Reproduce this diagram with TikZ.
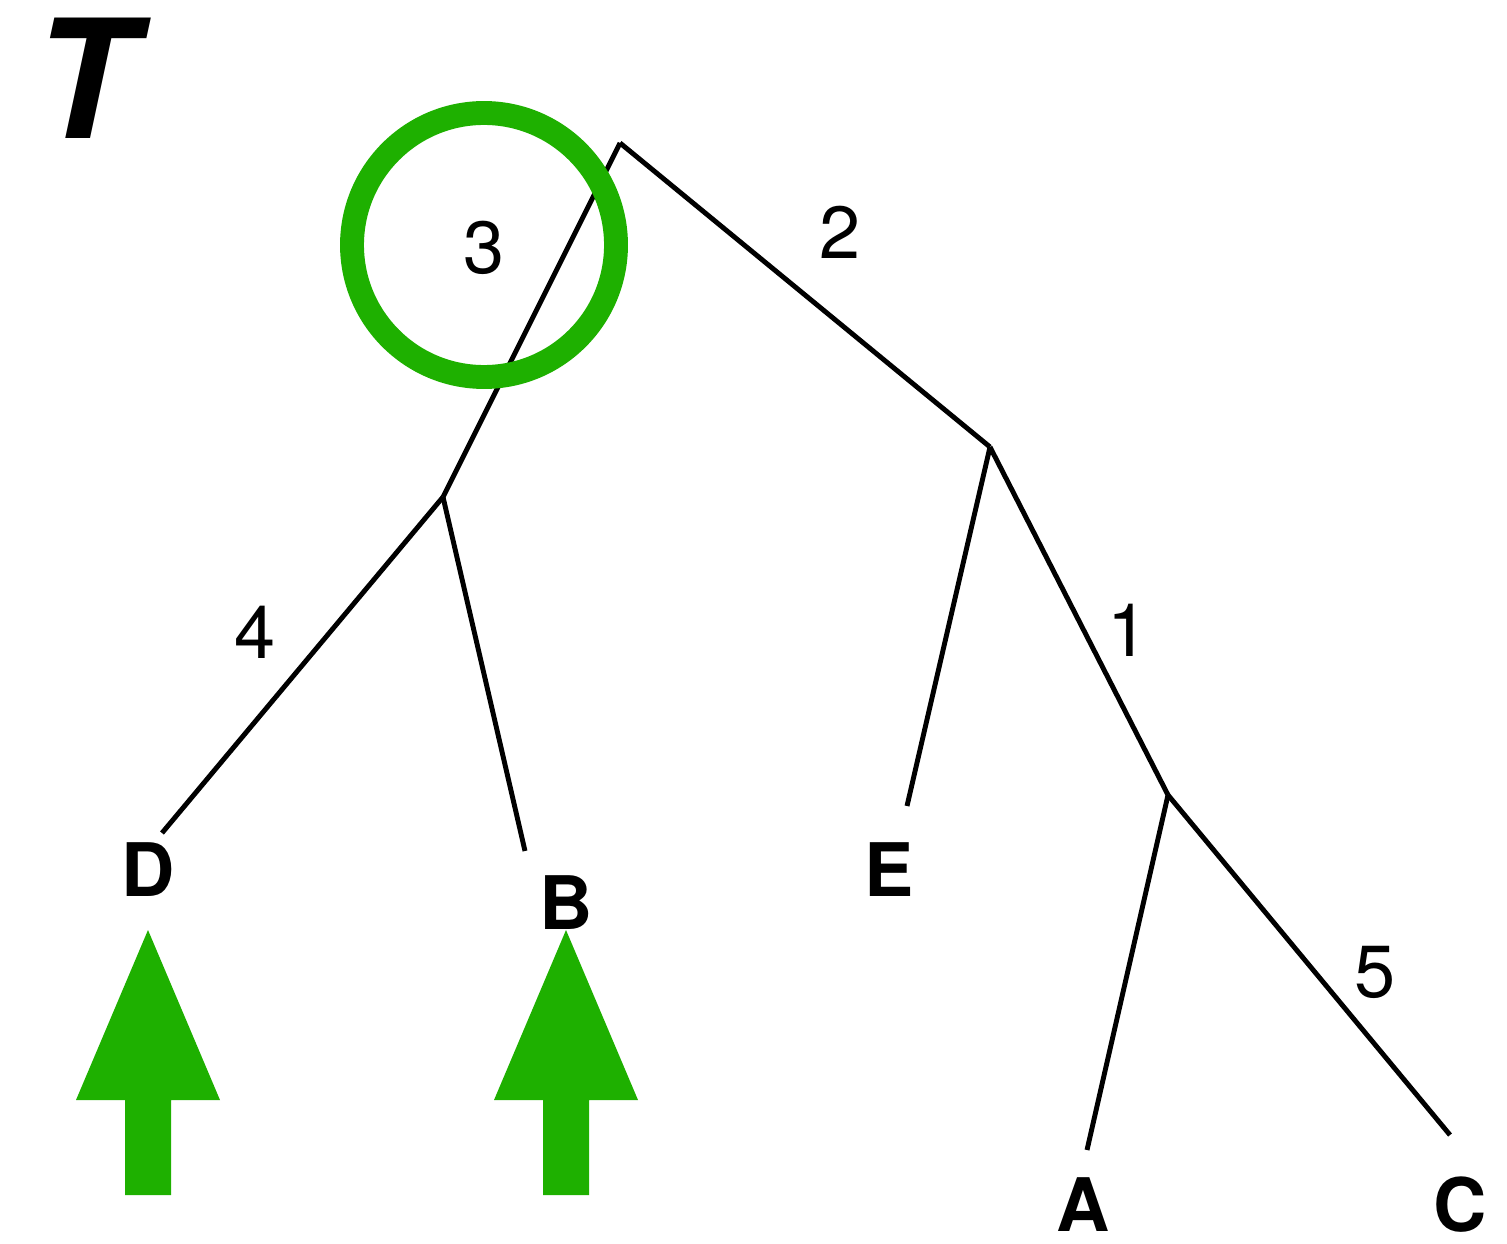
\documentclass[tikz,border=0pt]{standalone}
\usepackage{fontspec}
\setmainfont{TeX Gyre Heros}
\usetikzlibrary{positioning}
\definecolor{markgreen}{RGB}{30,176,0}

\begin{document}
\begin{tikzpicture}[x=0.01cm, y=-0.01cm,
	branch/.style = { draw=black, line width=1.4pt },
	leaf/.style = { font=\fontsize{21}{24}\selectfont\bfseries, inner sep=0pt },
	weight/.style = { font=\fontsize{21}{24}\selectfont, inner sep=0pt } ]

  \useasboundingbox (0,0) rectangle (1507,1243);

  % tree
  \coordinate (root) at (620,143);
  \coordinate (left) at (443,497);
  \coordinate (right) at (990,447);
  \coordinate (inner) at (1168,795);
  \coordinate (tipD) at (162,833);
  \coordinate (tipB) at (525,851);
  \coordinate (tipE) at (907,806);
  \coordinate (tipA) at (1087,1150);
  \coordinate (tipC) at (1450,1135);

  \draw [branch] (root) -- (left);
  \draw [branch] (root) -- (right);
  \draw [branch] (left) -- (tipD);
  \draw [branch] (left) -- (tipB);
  \draw [branch] (right) -- (tipE);
  \draw [branch] (right) -- (inner);
  \draw [branch] (inner) -- (tipA);
  \draw [branch] (inner) -- (tipC);

  \node [name=title, inner sep=0pt,
	font=\fontsize{47}{50}\selectfont\bfseries\itshape] at (84,78) { T };

  \node [name=labD, leaf] at (148,870) { D };
  \node [name=labB, leaf] at (566,903) { B };
  \node [name=labE, leaf] at (889,870) { E };
  \node [name=labA, leaf] at (1083,1205) { A };
  \node [name=labC, leaf] at (1460,1205) { C };

  \node [name=w3, weight] at (484,248) { 3 };
  \node [name=w2, weight] at (840,232) { 2 };
  \node [name=w4, weight] at (255,632) { 4 };
  \node [name=w1, weight] at (1128,630) { 1 };
  \node [name=w5, weight] at (1375,972) { 5 };

  % highlight
  \draw [markgreen, line width=6.8pt] (484,245) circle [radius=132];
  \foreach \x in {148,566}
	\fill [markgreen] (\x,930) -- ++(72,170) -- ++(-49,0) -- ++(0,95)
	  -- ++(-46,0) -- ++(0,-95) -- ++(-49,0) -- cycle;
\end{tikzpicture}
\end{document}
